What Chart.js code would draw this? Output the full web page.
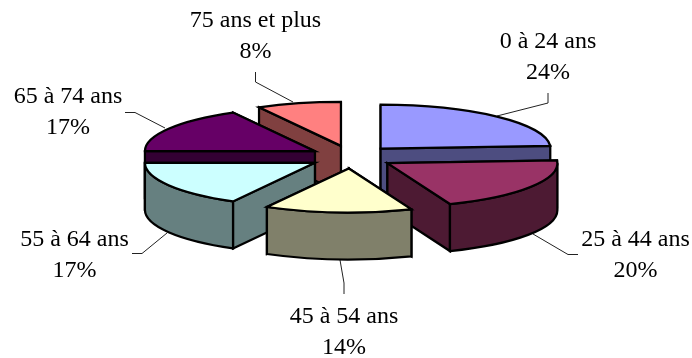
<!DOCTYPE html>
<html>
<head>
<meta charset="utf-8">
<script src="https://cdn.jsdelivr.net/npm/chart.js@4/dist/chart.umd.min.js"></script>
<style>
html, body { margin: 0; padding: 0; background: #fff; }
#box { width: 692px; height: 358px; }
</style>
</head>
<body>
<div id="box"><canvas id="repartition"></canvas></div>
<script>
var categories = ["0 à 24 ans", "25 à 44 ans", "45 à 54 ans", "55 à 64 ans", "65 à 74 ans", "75 ans et plus"];
var values = [24, 20, 14, 17, 17, 8];
var topColors = ["#9999ff", "#993366", "#ffffcc", "#ccffff", "#660066", "#ff8080"];
var sideColors = ["#4d4d80", "#4d1a33", "#80806a", "#668080", "#330033", "#804040"];

// center of each two line label, and baseline of its first line
var labelPos = [[548, 48], [635.5, 246], [344, 323], [74.5, 246], [68, 103], [255.5, 27]];
// leader line of each label
var leaders = [
    [[548, 93], [548, 103], [497, 116]],
    [[578, 254.5], [568, 254.5], [533, 234]],
    [[344, 294], [344, 283], [340, 260]],
    [[132, 253.5], [142, 253.5], [167, 233]],
    [[125, 112.5], [135, 112.5], [165, 128]],
    [[255.5, 72], [255.5, 82], [293, 102]]
];

var SQUASH = 44 / 170;   // tilt of the pie
var SHIFT_SQUASH = 0.27; // vertical part of the slice explosion
var DEPTH = 47;          // height of the extrusion
var paintOrder = [5, 0, 4, 1, 3, 2]; // back to front

function wedgePoint(w, angle) {
    return {
        x: w.x + Math.cos(angle) * w.r,
        y: w.y + Math.sin(angle) * w.r * SQUASH
    };
}

function paintFace(ctx, fill) {
    ctx.fillStyle = fill;
    ctx.fill();
    ctx.stroke();
}

function radialFace(ctx, w, angle, fill) {
    var p = wedgePoint(w, angle);
    ctx.beginPath();
    ctx.moveTo(w.x, w.y);
    ctx.lineTo(p.x, p.y);
    ctx.lineTo(p.x, p.y + DEPTH);
    ctx.lineTo(w.x, w.y + DEPTH);
    ctx.closePath();
    paintFace(ctx, fill);
}

function drawWedge(ctx, arc, top, side) {
    var props = arc.getProps(["x", "y", "startAngle", "endAngle", "outerRadius"]);
    var mid = (props.startAngle + props.endAngle) / 2;
    // the library moves an offset arc by a quarter of its offset option
    var shift = arc.options.offset / 4;
    var w = {
        x: props.x + Math.cos(mid) * shift,
        y: props.y + Math.sin(mid) * shift * SHIFT_SQUASH,
        r: props.outerRadius
    };
    var ry = w.r * SQUASH;

    // radial walls, the farther one first
    var walls = [props.startAngle, props.endAngle];
    walls.sort(function (a, b) { return Math.sin(a) - Math.sin(b); });
    radialFace(ctx, w, walls[0], side);
    radialFace(ctx, w, walls[1], side);

    // outer wall, only the part on the near half of the ellipse
    var from = Math.max(props.startAngle, 0);
    var to = Math.min(props.endAngle, Math.PI);
    if (to > from) {
        ctx.beginPath();
        ctx.ellipse(w.x, w.y, w.r, ry, 0, from, to);
        ctx.ellipse(w.x, w.y + DEPTH, w.r, ry, 0, to, from, true);
        ctx.closePath();
        paintFace(ctx, side);
    }

    // top of the slice
    ctx.beginPath();
    ctx.moveTo(w.x, w.y);
    ctx.ellipse(w.x, w.y, w.r, ry, 0, props.startAngle, props.endAngle);
    ctx.closePath();
    paintFace(ctx, top);
}

var pie3d = {
    id: "pie3d",
    beforeDatasetsDraw: function (chart) {
        var ctx = chart.ctx;
        var arcs = chart.getDatasetMeta(0).data;

        ctx.save();
        ctx.strokeStyle = "#222";
        ctx.lineWidth = 1;
        leaders.forEach(function (line) {
            ctx.beginPath();
            line.forEach(function (p, i) {
                if (i === 0) { ctx.moveTo(p[0], p[1]); } else { ctx.lineTo(p[0], p[1]); }
            });
            ctx.stroke();
        });

        ctx.strokeStyle = "#000";
        ctx.lineWidth = 2.25;
        ctx.lineJoin = "miter";
        paintOrder.forEach(function (i) {
            drawWedge(ctx, arcs[i], topColors[i], sideColors[i]);
        });

        ctx.fillStyle = "#000";
        ctx.font = '24px "Liberation Serif", serif';
        ctx.textAlign = "center";
        ctx.textBaseline = "alphabetic";
        categories.forEach(function (name, i) {
            ctx.fillText(name, labelPos[i][0], labelPos[i][1]);
            ctx.fillText(values[i] + "%", labelPos[i][0], labelPos[i][1] + 31);
        });
        ctx.restore();
        return false;
    }
};

new Chart(document.getElementById("repartition").getContext("2d"), {
    type: "pie",
    data: {
        labels: categories,
        datasets: [{
            data: values,
            backgroundColor: topColors,
            borderWidth: 0,
            offset: 170,
            radius: 170
        }]
    },
    options: {
        responsive: true,
        maintainAspectRatio: false,
        animation: false,
        layout: { padding: { left: 11, bottom: 44 } },
        plugins: {
            legend: { display: false },
            tooltip: { enabled: false }
        }
    },
    plugins: [pie3d]
});
</script>
</body>
</html>
